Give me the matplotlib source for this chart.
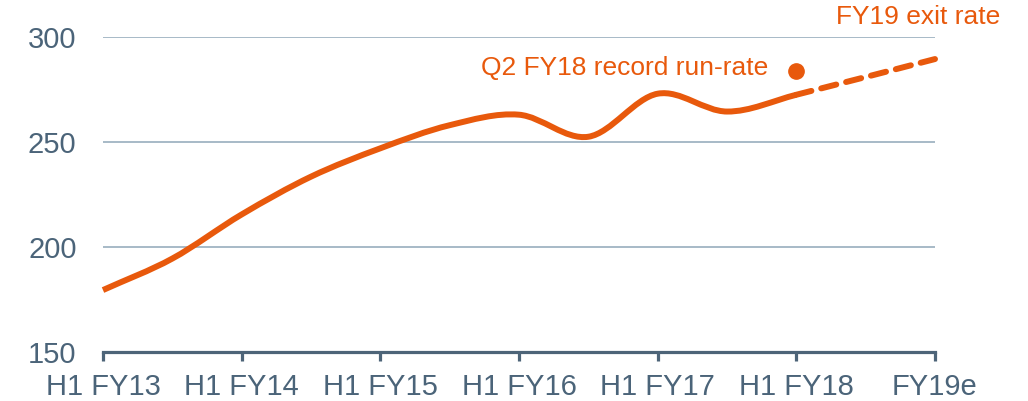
import matplotlib
matplotlib.use("Agg")
import matplotlib.pyplot as plt
from matplotlib.path import Path
from matplotlib.patches import PathPatch
import numpy as np

plt.rcParams['font.family'] = ['Liberation Sans', 'DejaVu Sans']

# Data (half-year positions; FY19e at 6)
x_actual = [0, 0.5, 1, 1.5, 2, 2.5, 3, 3.5, 4, 4.5, 5]
y_actual = [179.5, 194.5, 215.5, 233.5, 247, 258, 263, 252.5, 273, 264.5, 272.5]
x_forecast = [5, 6]
y_forecast = [272.5, 289.5]
record_x = 5
record_y = 284

tick_pos = [0, 1, 2, 3, 4, 5, 6]
tick_labels = ["H1 FY13", "H1 FY14", "H1 FY15", "H1 FY16", "H1 FY17", "H1 FY18", "FY19e"]
y_ticks = [150, 200, 250, 300]

ORANGE = '#e8590c'
SLATE = '#4b6479'
GRID = '#90a7b8'

fig = plt.figure(figsize=(10.28, 4.01), dpi=100)
ax = fig.add_axes([103/1028, 1-352/401, (935-103)/1028, (352-37)/401])
ax.set_xlim(0, 6)
ax.set_ylim(150, 300)

# all points for slope estimation
xs = np.array(x_actual + x_forecast[1:], dtype=float)
ys = np.array(y_actual + y_forecast[1:], dtype=float)
n = len(xs)
m = np.zeros(n)
for i in range(n):
    if i == 0:
        m[i] = (ys[1]-ys[0])/(xs[1]-xs[0])
    elif i == n-1:
        m[i] = (ys[-1]-ys[-2])/(xs[-1]-xs[-2])
    else:
        m[i] = (ys[i+1]-ys[i-1])/(xs[i+1]-xs[i-1])

def bezier_path(i0, i1):
    verts = [(xs[i0], ys[i0])]
    codes = [Path.MOVETO]
    for i in range(i0, i1):
        h = xs[i+1]-xs[i]
        verts += [(xs[i]+h/3, ys[i]+m[i]*h/3),
                  (xs[i+1]-h/3, ys[i+1]-m[i+1]*h/3),
                  (xs[i+1], ys[i+1])]
        codes += [Path.CURVE4]*3
    return Path(verts, codes)

solid = PathPatch(bezier_path(0, len(x_actual)-1), facecolor='none', edgecolor=ORANGE,
                  lw=4.3, capstyle='butt', joinstyle='round', clip_on=False, zorder=3)
ax.add_patch(solid)
dashed = PathPatch(bezier_path(len(x_actual)-1, n-1), facecolor='none', edgecolor=ORANGE,
                   lw=4.3, linestyle=(0, (2.6, 1.7)), capstyle='round', clip_on=False, zorder=3)
ax.add_patch(dashed)

ax.plot([record_x], [record_y], 'o', color=ORANGE, markersize=11, zorder=4, clip_on=False)

ax.text(4.795, 285.2, "Q2 FY18 record run-rate", color=ORANGE, fontsize=19,
        ha='right', va='center')
ax.text(6.47, 309.5, "FY19 exit rate", color=ORANGE, fontsize=19,
        ha='right', va='center', clip_on=False)

# grid
for yv in [200, 250, 300]:
    ax.axhline(yv, color=GRID, lw=1.1, zorder=1)

for s in ['top', 'right', 'left']:
    ax.spines[s].set_visible(False)
ax.spines['bottom'].set_color('#4d6478')
ax.spines['bottom'].set_linewidth(2.3)

ax.set_xticks(tick_pos)
ax.set_xticklabels(tick_labels)
ax.set_yticks(y_ticks)
ax.set_yticklabels([str(v) for v in y_ticks])
ax.tick_params(axis='x', direction='out', length=6.5, width=2.3, color='#4d6478',
               labelsize=21, labelcolor=SLATE, pad=8.5)
ax.tick_params(axis='y', length=0, labelsize=21, labelcolor=SLATE, pad=19)

fig.savefig("out.png", dpi=100)
